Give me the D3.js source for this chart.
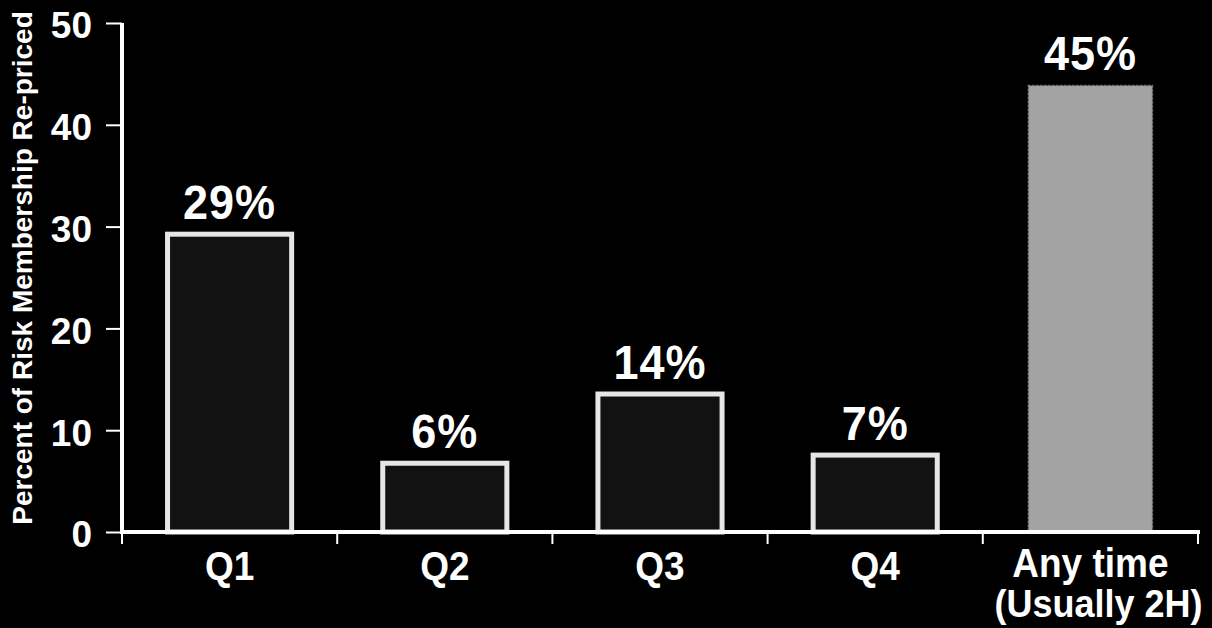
<!DOCTYPE html>
<html><head><meta charset="utf-8">
<script src="https://cdn.jsdelivr.net/npm/d3@7"></script>
<style>
html,body{margin:0;padding:0;background:#000;}
svg{display:block;}
text{font-family:"Liberation Sans",Arial,sans-serif;font-weight:bold;fill:#fff;}
</style></head>
<body>
<svg id="chart" width="1212" height="628"></svg>
<script>
const categories = ["Q1", "Q2", "Q3", "Q4", "Any time"];
const subLabels = ["", "", "", "", "(Usually 2H)"];
const values = [29.5, 7.0, 13.8, 7.8, 44.1];
const valueLabels = ["29%", "6%", "14%", "7%", "45%"];
const yTicks = [0, 10, 20, 30, 40, 50];
const yTitle = "Percent of Risk Membership Re-priced";

const svg = d3.select("#chart");
svg.append("rect").attr("width",1212).attr("height",628).attr("fill","#000");

const x = d3.scaleBand().domain(categories).range([122,1198]).paddingInner(0.4).paddingOuter(0.2);
const y = d3.scaleLinear().domain([0,50]).range([532,23]);

// bars
const sw = 5;
categories.forEach((c,i)=>{
  const last = i === categories.length-1;
  svg.append("rect")
    .attr("x", x(c)+sw/2)
    .attr("y", y(values[i])+sw/2)
    .attr("width", x.bandwidth()-sw)
    .attr("height", y(0)-y(values[i])-sw/2)
    .attr("fill", last ? "#a3a3a3" : "#121212")
    .attr("stroke", last ? "#7a7a7a" : "#e6e6e6")
    .attr("stroke-width", last ? 1.5 : sw)
    .attr("stroke-dasharray", last ? "2,2" : null);
  const lx = x(c)+x.bandwidth()/2, ly = y(values[i])-13;
  svg.append("text")
    .attr("transform", `translate(${lx},${ly}) scale(1,1.06)`)
    .attr("text-anchor","middle")
    .attr("font-size", 45)
    .attr("letter-spacing", 1)
    .text(valueLabels[i]);
});

// y axis
const yAxis = d3.axisLeft(y).tickValues(yTicks).tickSize(16).tickPadding(14);
const gy = svg.append("g").attr("transform","translate(122,0)").call(yAxis);
gy.select(".domain").attr("stroke","#fff").attr("stroke-width",4).attr("d","M0,"+(y(50))+"V"+(y(0)+2));
gy.selectAll(".tick line").attr("stroke","#fff").attr("stroke-width",2);
gy.selectAll(".tick text").attr("fill","#fff").attr("font-size",37)
  .attr("font-family","Liberation Sans, Arial, sans-serif").attr("font-weight","bold")
  .attr("dy","0.4em");

// x axis
const bounds = categories.map(c=>x(c)-x.step()*x.paddingInner()/2);
bounds.push(1198);
const xAxisG = svg.append("g");
xAxisG.append("line").attr("x1",120).attr("x2",1200).attr("y1",y(0)).attr("y2",y(0))
  .attr("stroke","#fff").attr("stroke-width",4);
xAxisG.selectAll("line.xt").data(bounds).join("line").attr("class","xt")
  .attr("x1",d=>d).attr("x2",d=>d).attr("y1",y(0)).attr("y2",y(0)+12)
  .attr("stroke","#fff").attr("stroke-width",2);
categories.forEach((c,i)=>{
  const cx = x(c)+x.bandwidth()/2;
  const by = subLabels[i] ? 577 : 580;
  svg.append("text").attr("transform",`translate(${cx},${by}) scale(1,1.12)`)
    .attr("text-anchor","middle").attr("font-size",37).text(c);
  if (subLabels[i]) {
    svg.append("text").attr("transform",`translate(${cx+8},617) scale(1,1.1)`)
      .attr("text-anchor","middle").attr("font-size",36).text(subLabels[i]);
  }
});

// y title
svg.append("text")
  .attr("transform","translate(32,268) rotate(-90)")
  .attr("text-anchor","middle")
  .attr("font-size",28)
  .text(yTitle);
</script>
</body></html>
